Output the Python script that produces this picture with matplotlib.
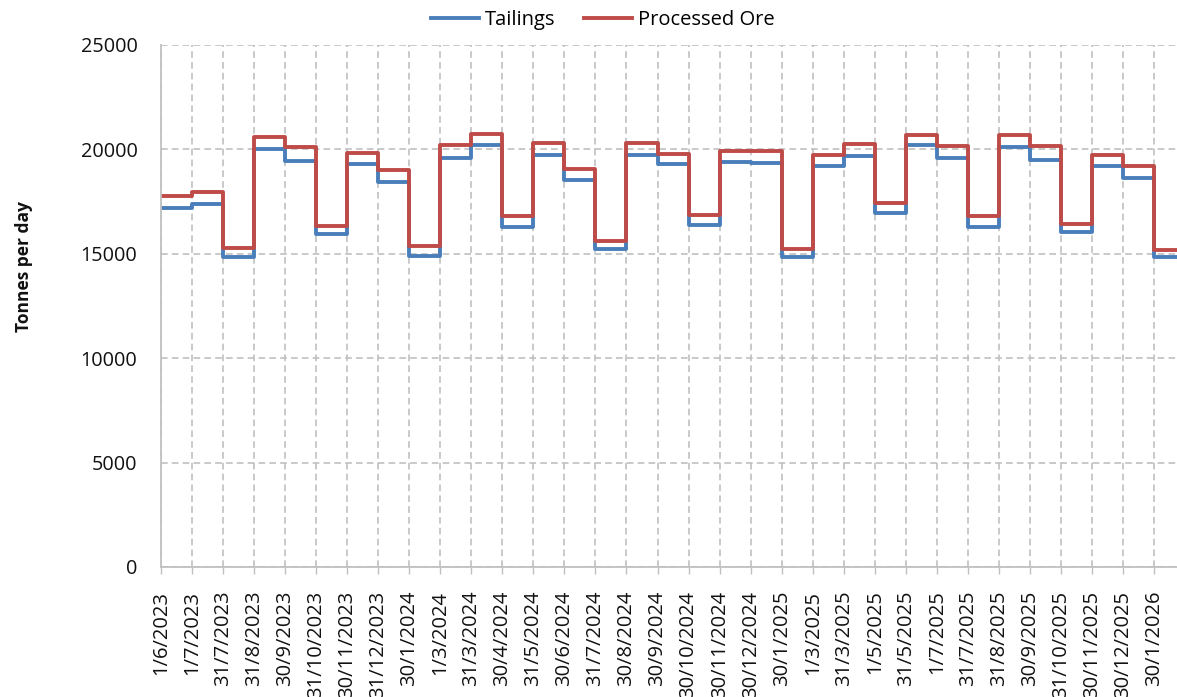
import matplotlib.pyplot as plt
import numpy as np

plt.rcParams['font.family'] = ['Open Sans', 'DejaVu Sans']

dates = ['1/6/2023', '1/7/2023', '31/7/2023', '31/8/2023', '30/9/2023', '31/10/2023',
         '30/11/2023', '31/12/2023', '30/1/2024', '1/3/2024', '31/3/2024', '30/4/2024',
         '31/5/2024', '30/6/2024', '31/7/2024', '30/8/2024', '30/9/2024', '30/10/2024',
         '30/11/2024', '30/12/2024', '30/1/2025', '1/3/2025', '31/3/2025', '1/5/2025',
         '31/5/2025', '1/7/2025', '31/7/2025', '31/8/2025', '30/9/2025', '31/10/2025',
         '30/11/2025', '30/12/2025', '30/1/2026']
tailings = [17200, 17400, 14850, 20000, 19450, 15950, 19300, 18450, 14900, 19600, 20200,
            16300, 19750, 18550, 15250, 19750, 19300, 16400, 19400, 19350, 14850, 19200,
            19700, 16950, 20200, 19600, 16300, 20100, 19500, 16050, 19200, 18650, 14850]
processed_ore = [17750, 17950, 15300, 20600, 20100, 16350, 19850, 19000, 15350, 20200, 20750,
                 16800, 20300, 19050, 15600, 20300, 19800, 16850, 19900, 19900, 15250, 19750,
                 20250, 17450, 20700, 20150, 16800, 20700, 20150, 16450, 19750, 19200, 15200]

blue = '#4a7ebb'
red = '#be4b48'
grid_col = '#c0c0c0'

fig = plt.figure(figsize=(11.77, 6.97), dpi=100)
ax = fig.add_axes([161 / 1177, 1 - 567 / 697, 1 - 161 / 1177, (567 - 45) / 697])

x = np.arange(len(dates) + 1)  # extra edge so the last step runs on
ax.step(x, tailings + tailings[-1:], where='post', color=blue, lw=2.8, label='Tailings')
ax.step(x, processed_ore + processed_ore[-1:], where='post', color=red, lw=2.8,
        label='Processed Ore')

ax.set_xlim(0, len(dates) - 1 + 0.74)
ax.set_ylim(0, 25000)
ax.set_yticks(np.arange(0, 25001, 5000))
ax.set_xticks(np.arange(len(dates)))
ax.set_xticklabels(dates, rotation=90, fontsize=14.5, color='#111111')
ax.tick_params(axis='y', length=0, pad=17, labelsize=14.3, labelcolor='#111111')
ax.tick_params(axis='x', length=5, width=1, color=grid_col, pad=12)

ax.grid(True, color=grid_col, linestyle=(0, (4, 2.5)), linewidth=1.2)
ax.set_axisbelow(True)
for side in ['top', 'right']:
    ax.spines[side].set_visible(False)
for side in ['left', 'bottom']:
    ax.spines[side].set_color(grid_col)
    ax.spines[side].set_linewidth(1.3)

fig.text(24 / 1177, 1 - 267 / 697, 'Tonnes per day', rotation=90, fontsize=12.5,
         fontweight='bold', ha='center', va='center', color='#111111')

fig.legend(loc='upper center', bbox_to_anchor=(0.512, 1.012), ncol=2, frameon=False,
           fontsize=14.5, handlelength=2.4, handletextpad=0.3, columnspacing=1.4)

fig.savefig('out.png', dpi=100)
